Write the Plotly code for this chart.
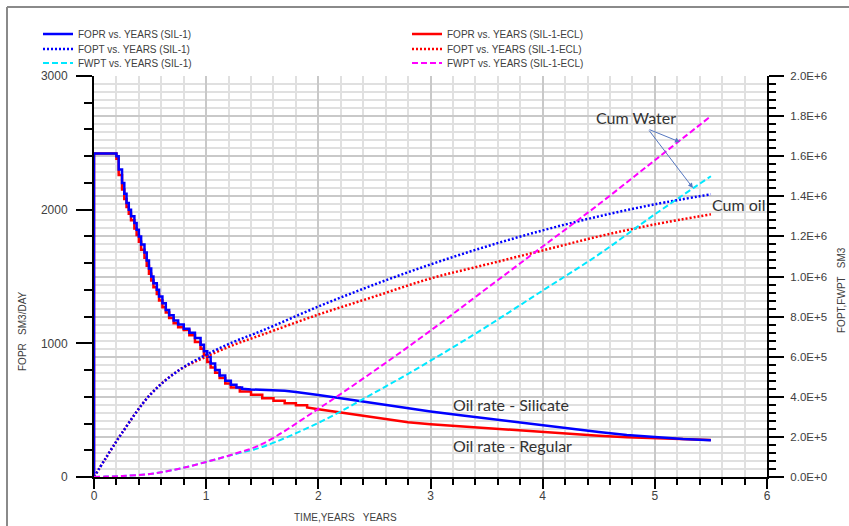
import plotly.graph_objects as go

# ---------------- data ----------------
# Oil rate FOPR (SM3/DAY) vs years: step-wise early part, smooth tail
fopr_sil_step_years = [0, 0, 0.2, 0.22, 0.25, 0.27, 0.29, 0.31, 0.33, 0.36, 0.38, 0.40, 0.42, 0.45,
                       0.47, 0.49, 0.51, 0.53, 0.56, 0.58, 0.61, 0.64, 0.67, 0.71, 0.75, 0.80, 0.85,
                       0.90, 0.95, 0.98, 1.01, 1.04, 1.08, 1.12, 1.17, 1.22, 1.27, 1.32]
fopr_sil_step = [0, 2420, 2400, 2300, 2200, 2120, 2050, 2000, 1950, 1900, 1850, 1800, 1740, 1680,
                 1620, 1560, 1500, 1450, 1400, 1350, 1300, 1250, 1210, 1170, 1140, 1110, 1080,
                 1040, 990, 940, 900, 850, 800, 760, 720, 690, 670, 660]
fopr_sil_tail_years = [1.4, 1.5, 1.6, 1.7, 1.8, 1.9, 2.0, 2.2, 2.4, 2.6, 2.8, 3.0, 3.25, 3.5, 3.75,
                       4.0, 4.25, 4.5, 4.75, 5.0, 5.25, 5.5]
fopr_sil_tail = [655, 652, 650, 645, 636, 626, 614, 590, 565, 538, 512, 490, 463, 437, 411,
                 385, 360, 336, 315, 298, 285, 275]

fopr_ecl_step_years = [0, 0, 0.2, 0.22, 0.25, 0.27, 0.29, 0.31, 0.33, 0.36, 0.38, 0.40, 0.42, 0.45,
                       0.47, 0.49, 0.51, 0.53, 0.56, 0.58, 0.61, 0.64, 0.67, 0.71, 0.75, 0.80, 0.85,
                       0.90, 0.95, 0.98, 1.01, 1.04, 1.08, 1.12, 1.17, 1.22, 1.3, 1.4, 1.5, 1.6,
                       1.7, 1.8, 1.9]
fopr_ecl_step = [0, 2420, 2380, 2260, 2150, 2080, 2020, 1970, 1920, 1860, 1810, 1760, 1700, 1640,
                 1580, 1520, 1470, 1420, 1370, 1320, 1270, 1230, 1190, 1150, 1120, 1100, 1060,
                 1010, 960, 910, 860, 820, 780, 740, 700, 670, 640, 615, 590, 570,
                 552, 536, 520]
fopr_ecl_tail_years = [2.0, 2.2, 2.4, 2.6, 2.8, 3.0, 3.25, 3.5, 3.75, 4.0, 4.25, 4.5, 4.75, 5.0,
                       5.25, 5.5]
fopr_ecl_tail = [507, 482, 458, 433, 410, 395, 380, 368, 352, 337, 322, 308, 297, 289, 282, 276]

# Cumulative oil / water (SM3) vs years
cum_years = [0, 0.1, 0.25, 0.5, 0.75, 1.0, 1.25, 1.5, 2.0, 2.5, 3.0, 3.5, 4.0, 4.5, 5.0, 5.5]
fopt_sil = [0, 0.09e6, 0.22e6, 0.41e6, 0.53e6, 0.61e6, 0.675e6, 0.73e6, 0.85e6, 0.96e6, 1.06e6,
            1.15e6, 1.23e6, 1.30e6, 1.36e6, 1.41e6]
fopt_ecl = [0, 0.09e6, 0.22e6, 0.41e6, 0.53e6, 0.60e6, 0.66e6, 0.71e6, 0.81e6, 0.90e6, 0.99e6,
            1.06e6, 1.13e6, 1.20e6, 1.26e6, 1.31e6]
fwpt_sil = [0, 0.002e6, 0.005e6, 0.015e6, 0.04e6, 0.075e6, 0.113e6, 0.15e6, 0.27e6, 0.42e6, 0.58e6,
            0.75e6, 0.93e6, 1.11e6, 1.31e6, 1.50e6]
fwpt_ecl = [0, 0.002e6, 0.005e6, 0.015e6, 0.04e6, 0.075e6, 0.115e6, 0.165e6, 0.34e6, 0.53e6, 0.73e6,
            0.94e6, 1.15e6, 1.36e6, 1.58e6, 1.80e6]

left_ticks = [0, 1000, 2000, 3000]
right_ticks = [0, 2e5, 4e5, 6e5, 8e5, 1e6, 1.2e6, 1.4e6, 1.6e6, 1.8e6, 2e6]
right_tick_text = ["0.0E+0", "2.0E+5", "4.0E+5", "6.0E+5", "8.0E+5", "1.0E+6",
                   "1.2E+6", "1.4E+6", "1.6E+6", "1.8E+6", "2.0E+6"]
x_ticks = [0, 1, 2, 3, 4, 5, 6]


def staircase(xs, ys):
    """Turn read step values into a horizontal-then-vertical path."""
    sx, sy = [], []
    for i, (x, y) in enumerate(zip(xs, ys)):
        if i > 0:
            sx.append(x)
            sy.append(ys[i - 1])
        sx.append(x)
        sy.append(y)
    return sx, sy


sil_x, sil_y = staircase(fopr_sil_step_years, fopr_sil_step)
sil_x += fopr_sil_tail_years
sil_y += fopr_sil_tail
ecl_x, ecl_y = staircase(fopr_ecl_step_years, fopr_ecl_step)
ecl_x += fopr_ecl_tail_years
ecl_y += fopr_ecl_tail

# ---------------- figure ----------------
W, H = 849, 526
L, R, T, B = 94, 82, 76, 49
pw, ph = W - L - R, H - T - B


def px_x(p):
    return (p - L) / pw


def px_y(p):
    return (H - B - p) / ph


TXT = "#404040"
FONT = "Liberation Sans"

fig = go.Figure()

fig.add_trace(go.Scatter(x=ecl_x, y=ecl_y, mode="lines",
                         line=dict(color="#ff0000", width=2.5),
                         name="FOPR vs. YEARS (SIL-1-ECL)", legend="legend2", yaxis="y"))
fig.add_trace(go.Scatter(x=sil_x, y=sil_y, mode="lines",
                         line=dict(color="#0000ff", width=2.5),
                         name="FOPR vs. YEARS (SIL-1)", legend="legend", yaxis="y"))
fig.add_trace(go.Scatter(x=cum_years, y=fopt_ecl, mode="lines", line_shape="spline",
                         line=dict(color="#ff0000", width=2.5, dash="2px,2px"),
                         name="FOPT vs. YEARS (SIL-1-ECL)", legend="legend4", yaxis="y2"))
fig.add_trace(go.Scatter(x=cum_years, y=fopt_sil, mode="lines", line_shape="spline",
                         line=dict(color="#0000ff", width=2.5, dash="2px,2px"),
                         name="FOPT vs. YEARS (SIL-1)", legend="legend3", yaxis="y2"))
fig.add_trace(go.Scatter(x=cum_years, y=fwpt_sil, mode="lines", line_shape="spline",
                         line=dict(color="#00e8ff", width=2, dash="6px,3px"),
                         name="FWPT vs. YEARS (SIL-1)", legend="legend5", yaxis="y2"))
fig.add_trace(go.Scatter(x=cum_years, y=fwpt_ecl, mode="lines", line_shape="spline",
                         line=dict(color="#ff00ff", width=2, dash="6px,3px"),
                         name="FWPT vs. YEARS (SIL-1-ECL)", legend="legend6", yaxis="y2"))

leg_common = dict(font=dict(family=FONT, size=10, color=TXT), bgcolor="rgba(0,0,0,0)",
                  borderwidth=0, xanchor="left", yanchor="middle", itemclick=False)
lx_left, lx_right = px_x(38), px_x(407)
ry = [px_y(34), px_y(49), px_y(63)]

fig.update_layout(
    width=W, height=H,
    margin=dict(l=L, r=R, t=T, b=B),
    paper_bgcolor="white", plot_bgcolor="white",
    font=dict(family=FONT, color=TXT),
    showlegend=True,
    legend=dict(x=lx_left, y=ry[0], **leg_common),
    legend2=dict(x=lx_right, y=ry[0], **leg_common),
    legend3=dict(x=lx_left, y=ry[1], **leg_common),
    legend4=dict(x=lx_right, y=ry[1], **leg_common),
    legend5=dict(x=lx_left, y=ry[2], **leg_common),
    legend6=dict(x=lx_right, y=ry[2], **leg_common),
    xaxis=dict(range=[0, 6], tickvals=x_ticks, showgrid=True, gridcolor="#c9c9c9", gridwidth=1.5,
               zeroline=False, showline=True, linecolor="black", linewidth=2,
               ticks="outside", ticklen=10, tickwidth=2, tickcolor="black",
               ticklabelstandoff=-3,
               tickfont=dict(family=FONT, size=12, color=TXT),
               minor=dict(dtick=0.2, tick0=0, showgrid=True, gridcolor="#e0e0e0", gridwidth=1.5,
                          ticks="outside", ticklen=6, tickwidth=1.5, tickcolor="black")),
    yaxis=dict(range=[0, 3000], tickvals=left_ticks, showgrid=False, zeroline=False,
               showline=True, linecolor="black", linewidth=2,
               ticks="outside", ticklen=16, tickwidth=2, tickcolor="black",
               ticklabelstandoff=6,
               tickfont=dict(family=FONT, size=12, color=TXT),
               minor=dict(dtick=200, tick0=0, showgrid=False, ticks="outside", ticklen=8,
                          tickwidth=1.5, tickcolor="black")),
    yaxis2=dict(range=[0, 2e6], overlaying="y", side="right", anchor="x",
                tickvals=right_ticks, ticktext=right_tick_text,
                showgrid=True, gridcolor="#c9c9c9", gridwidth=1.5, zeroline=False,
                showline=True, linecolor="black", linewidth=2,
                ticks="outside", ticklen=15, tickwidth=2, tickcolor="black",
                ticklabelstandoff=4,
                tickfont=dict(family=FONT, size=11.5, color=TXT),
                minor=dict(dtick=40000, tick0=0, showgrid=True, gridcolor="#e0e0e0", gridwidth=1.5,
                           ticks="outside", ticklen=7, tickwidth=1.5, tickcolor="black")),
)

# axis titles
fig.add_annotation(text="FOPR   SM3/DAY", xref="paper", yref="paper", x=px_x(22), y=px_y(331),
                   xanchor="center", yanchor="middle",
                   textangle=-90, showarrow=False, font=dict(family=FONT, size=10, color=TXT))
fig.add_annotation(text="FOPT,FWPT   SM3", xref="paper", yref="paper", x=px_x(841), y=px_y(290),
                   xanchor="center", yanchor="middle",
                   textangle=-90, showarrow=False, font=dict(family=FONT, size=10, color=TXT))
fig.add_annotation(text="TIME,YEARS   YEARS", xref="paper", yref="paper", x=px_x(345), y=px_y(517),
                   xanchor="center", yanchor="middle",
                   showarrow=False, font=dict(family=FONT, size=10, color=TXT))

# callouts
ANN = dict(family="Lato", size=16, color="#333333")
fig.add_annotation(text="Cum Water", xref="x", yref="y", x=4.83, y=2693, showarrow=False, font=ANN)
fig.add_annotation(text="Cum oil", xref="x", yref="y", x=5.75, y=2035, showarrow=False, font=ANN)
fig.add_annotation(text="Oil rate - Silicate", xref="x", yref="y", x=3.72, y=546, showarrow=False, font=ANN)
fig.add_annotation(text="Oil rate - Regular", xref="x", yref="y", x=3.73, y=239, showarrow=False, font=ANN)
fig.add_annotation(text="", xref="x", yref="y", x=5.224, y=2506, ax=-32, ay=-13,
                   showarrow=True, arrowhead=2, arrowsize=1, arrowwidth=1, arrowcolor="#5577c0")
fig.add_annotation(text="", xref="x", yref="y", x=5.34, y=2162, ax=-45, ay=-59,
                   showarrow=True, arrowhead=2, arrowsize=1, arrowwidth=1, arrowcolor="#5577c0")

# outer frame lines (top and left)
fig.add_shape(type="line", xref="paper", yref="paper", x0=px_x(7), x1=px_x(860), y0=px_y(7), y1=px_y(7),
              line=dict(color="#8a8a8a", width=2))
fig.add_shape(type="line", xref="paper", yref="paper", x0=px_x(7), x1=px_x(7), y0=px_y(7), y1=px_y(530),
              line=dict(color="#8a8a8a", width=2))

fig.write_html("out.html")
